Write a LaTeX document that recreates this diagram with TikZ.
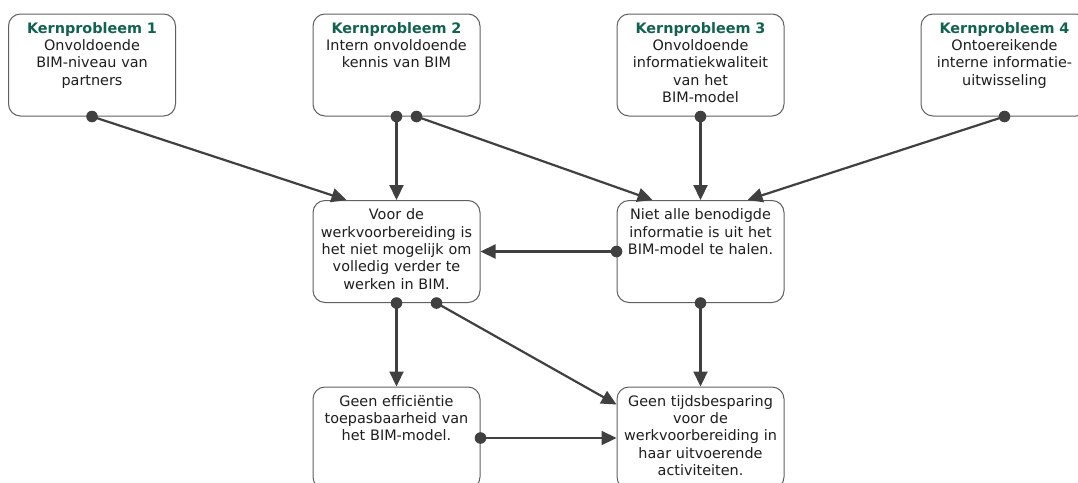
\documentclass[tikz,border=0pt]{standalone}
\usepackage{fontspec}
\setmainfont[Ligatures=NoCommon]{DejaVu Sans}
\usetikzlibrary{arrows.meta,calc}
\definecolor{kpgreen}{RGB}{18,98,80}
\definecolor{linkgray}{RGB}{64,64,64}
\definecolor{framegray}{RGB}{96,96,96}
\definecolor{inkblack}{RGB}{30,30,30}
\newcommand{\kp}[1]{\textbf{\color{kpgreen}#1}}
\begin{document}
\begin{tikzpicture}[x=1pt,y=-1pt,
  box/.style={draw=framegray, line width=1pt, rounded corners=12pt, fill=white,
    minimum width=167pt, minimum height=102pt, inner sep=0pt},
  txt/.style={anchor=north, align=center, text width=162pt, inner xsep=0pt,
    inner ysep=8.5pt, text=inkblack,
    font=\fontsize{14.4}{17.4}\selectfont},
  conn/.style={draw=linkgray, line width=2.2pt,
    -{Triangle[length=15pt,width=14pt]}},
  dot/.style={fill=linkgray}]
\useasboundingbox (0,0) rectangle (1078,482);

% top row: the four core problems
\node[box] (b1) at (92,65) {};
\node[box] (b2) at (396.5,65) {};
\node[box] (b3) at (700.5,65) {};
\node[box] (b4) at (1004.5,65) {};
% middle row
\node[box] (b5) at (396.5,251.5) {};
\node[box] (b6) at (700.5,251.5) {};
% bottom row
\node[box] (b7) at (396.5,438) {};
\node[box] (b8) at (700.5,438) {};

\node[txt] (t1) at (b1.north) {\kp{Kernprobleem 1}\\Onvoldoende\\BIM-niveau van\\partners};
\node[txt] (t2) at (b2.north) {\kp{Kernprobleem 2}\\Intern onvoldoende\\kennis van BIM};
\node[txt] (t3) at (b3.north) {\kp{Kernprobleem 3}\\Onvoldoende\\informatiekwaliteit\\van het\\BIM-model};
\node[txt] (t4) at (b4.north) {\kp{Kernprobleem 4}\\Ontoereikende\\interne informatie-\\uitwisseling};
\node[txt] (t5) at (b5.north) {Voor de\\werkvoorbereiding is\\het niet mogelijk om\\volledig verder te\\werken in BIM.};
\node[txt] (t6) at (b6.north) {Niet alle benodigde\\informatie is uit het\\BIM-model te halen.};
\node[txt] (t7) at (b7.north) {Geen efficiëntie\\toepasbaarheid van\\het BIM-model.};
\node[txt] (t8) at (b8.north) {Geen tijdsbesparing\\voor de\\werkvoorbereiding in\\haar uitvoerende\\activiteiten.};

% start points of the connectors
\coordinate (s1) at (b1.south);
\coordinate (s2a) at (b2.south);
\coordinate (s2b) at ($(b2.south)+(20,0)$);
\coordinate (s3) at (b3.south);
\coordinate (s4) at (b4.south);
\coordinate (s5a) at (b5.south);
\coordinate (s5b) at ($(b5.south)+(40,0)$);
\coordinate (s6a) at (b6.west);
\coordinate (s6b) at (b6.south);
\coordinate (s7) at (b7.east);

% end points on the target boxes
\coordinate (e1) at ($(b5.north west)+(34,0)$);
\coordinate (e3) at ($(b6.north west)+(36,0)$);
\coordinate (e5) at ($(b6.north east)+(-37,0)$);
\coordinate (e8) at ($(b8.north west)+(0,18)$);

\draw[conn] (s1) -- (e1);
\draw[conn] (s2a) -- (b5.north);
\draw[conn] (s2b) -- (e3);
\draw[conn] (s3) -- (b6.north);
\draw[conn] (s4) -- (e5);
\draw[conn] (s6a) -- (b5.east);
\draw[conn] (s5a) -- (b7.north);
\draw[conn] (s5b) -- (e8);
\draw[conn] (s6b) -- (b8.north);
\draw[conn] (s7) -- (b8.west);

\foreach \p in {s1,s2a,s2b,s3,s4,s5a,s5b,s6a,s6b,s7}
  \fill[dot] (\p) circle (5.8pt);
\end{tikzpicture}
\end{document}
